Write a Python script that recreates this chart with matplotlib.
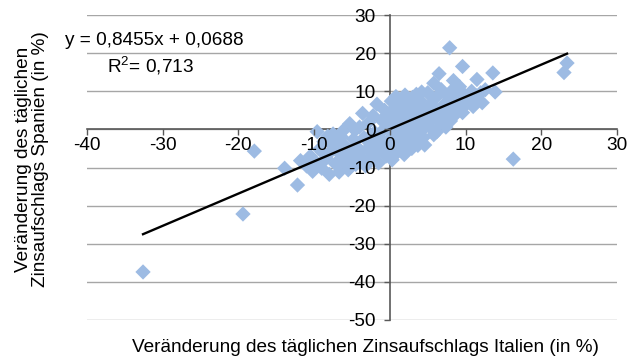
import matplotlib
matplotlib.use("Agg")
import matplotlib.pyplot as plt
import numpy as np

plt.rcParams['font.family'] = ['Liberation Sans', 'DejaVu Sans']
plt.rcParams['axes.unicode_minus'] = False
plt.rcParams['mathtext.fontset'] = 'custom'
plt.rcParams['mathtext.rm'] = 'Liberation Sans'
plt.rcParams['mathtext.default'] = 'regular'

# Daily spread changes, Italy (x) vs. Spain (y), in %
italy = [
    -32.6, -19.4, -17.9, 23.4, 23.0, 16.3, 7.9, 9.6, 13.6, 13.9, 11.5, 12.2, 6.5, 5.8, 8.4, 4.2,
    -13.9, -12.2, -9.6,
    -11.8, -11.0, -10.5, -10.2, -9.8, -9.3, -9.0, -8.7, -8.4, -8.2, -8.0, -7.8, -7.5, -7.2, -7.0,
    -6.7, -6.5, -6.2, -6.0, -5.8, -5.5, -5.3, -5.0, -4.8, -4.5, -4.3, -4.0, -3.8, -3.6, -3.4,
    -3.2, -3.0, -2.8, -2.6, -2.4, -2.2, -2.0, -1.8, -1.7, -1.5, -1.3, -1.1, -0.9, -0.7, -0.5,
    -0.3, -0.1, 0.0, 0.1, 0.2, 0.3, 0.4, 0.5, 0.6, 0.7, 0.8, 0.9, 1.0, 1.1, 1.2, 1.3, 1.4, 1.5,
    1.6, 1.7, 1.8, 1.9, 2.0, 2.1, 2.2, 2.3, 2.4, 2.5, 2.6, 2.7, 2.8, 2.9, 3.0, 3.1, 3.2, 3.3,
    3.4, 3.5, 3.6, 3.7, 3.8, 3.9, 4.0, 4.2, 4.4, 4.6, 4.8, 5.0, 5.2, 5.4, 5.6, 5.8, 6.0, 6.2,
    6.4, 6.6, 6.8, 7.0, 7.2, 7.4, 7.6, 7.8, 8.0, 8.2, 8.4, 8.6, 8.8, 9.0, 9.2, 9.4, 9.6, 9.8,
    10.0, 10.4, 10.8, 11.0, 11.4, 12.0, 12.6,
    -8.9, -7.6, -6.4, -5.6, -4.6, -3.9, -2.5, -1.0, -0.2, 0.8, 1.6, 2.4, 3.0, 3.8, 4.5, 5.3,
    6.1, 6.9, 7.7, -1.9, 0.5, 2.0, 4.1,
]
spain = [
    -37.4, -22.2, -5.7, 17.4, 14.9, -7.8, 21.4, 16.5, 14.8, 9.8, 13.1, 7.0, 14.6, 12.1, 12.8, 9.8,
    -10.2, -14.6, -0.6,
    -8.2, -9.6, -7.0, -11.0, -8.5, -5.2, -10.2, -3.2, -7.6, -1.8, -11.8, -5.8, -1.2, -9.0, -3.8,
    -11.2, -6.6, -0.4, -8.8, -4.6, -10.6, 1.5, -6.8, -2.6, -9.2, -4.8, 0.6, -7.4, 4.2, -2.2,
    -9.6, -5.2, 1.8, -7.8, -3.6, 3.6, -0.8, -6.0, 6.6, -8.8, -2.4, 2.4, -4.6, 5.0, -7.0,
    0.4, -2.6, 3.2, -5.2, 7.4, -8.0, -0.6, 1.8, 5.6, -3.4, 8.6, -6.2, 2.8, -1.4, 4.6, 7.8, -4.4, 0.8,
    6.2, -2.6, 3.8, -6.6, 9.0, 1.6, -0.8, 5.2, -3.8, 7.0, 2.4, -1.8, 4.4, -5.0, 8.4, 0.4, 6.0, -2.8,
    3.2, 9.2, 1.2, -4.2, 5.4, -0.6, 7.6, 2.6, -2.2, -4.1, 4.6, 9.6, 0.8, 6.6, 3.0, -1.4, 8.2, -0.6,
    4.8, 1.8, 10.4, 6.2, 3.4, 0.6, 8.8, 5.0, 2.2, 10.2, 6.8, 3.8, 8.4, 5.6, 11.2, 7.4, 4.4, 9.2,
    6.4, 8.0, 10.0, 6.0, 8.8, 9.6, 10.4,
    -6.0, -4.2, -2.0, -7.4, -0.2, -5.6, -1.6, -0.4, 1.4, 0.2, -1.0, 0.6, 3.6, 1.8, 0.2, 4.0,
    3.2, 4.6, 2.8, -4.0, -2.0, -5.2, 5.8,
]

# Linear trend as reported in the chart
slope = 0.8455
intercept = 0.0688
r_squared = 0.713

x_ticks = [-40, -30, -20, -10, 0, 10, 20, 30]
y_ticks = [-50, -40, -30, -20, -10, 0, 10, 20, 30]

marker_color = '#9DBBE3'
grid_color = '#A6A6A6'
axis_color = '#595959'
fs = 13.7

fig = plt.figure(figsize=(6.27, 3.63), dpi=100)
ax = fig.add_axes([87 / 627, 1 - 320 / 363, 530 / 627, 305 / 363])
ax.set_xlim(x_ticks[0], x_ticks[-1])
ax.set_ylim(y_ticks[0], y_ticks[-1])

# Horizontal gridlines drawn below the markers
for v in y_ticks:
    ax.axhline(v, color=grid_color, lw=1.0, zorder=0.5)

# Axes cross at the origin
for side in ('top', 'right'):
    ax.spines[side].set_visible(False)
ax.spines['left'].set_position(('data', 0))
ax.spines['bottom'].set_position(('data', 0))
for side in ('left', 'bottom'):
    ax.spines[side].set_color(axis_color)
    ax.spines[side].set_linewidth(1.2)
    ax.spines[side].set_zorder(0.8)

ax.scatter(italy, spain, marker='D', s=7.8 ** 2, color=marker_color,
           edgecolors='none', zorder=2)

xs = np.array([min(italy), max(italy)])
ax.plot(xs, slope * xs + intercept, color='black', lw=1.7, zorder=3)

ax.set_xticks(x_ticks)
ax.set_yticks(y_ticks)
ax.set_xticklabels([str(t) for t in x_ticks])
ax.set_yticklabels([str(t) for t in y_ticks])
ax.tick_params(axis='x', direction='out', length=4, width=1, color=axis_color,
               labelsize=fs, pad=1.5, labelcolor='black')
ax.tick_params(axis='y', direction='out', length=4, width=1, color=axis_color,
               labelsize=fs, pad=6, labelcolor='black')
ax.xaxis.set_zorder(4)
ax.yaxis.set_zorder(4)

ax.text(-42.9, 22.2, 'y = 0,8455x + 0,0688', fontsize=fs, va='baseline', ha='left',
        clip_on=False, zorder=5)
ax.text(-37.4, 14.8, 'R$^{2}$= 0,713', fontsize=fs, va='baseline', ha='left',
        clip_on=False, zorder=5)

ax.set_xlabel('Veränderung des täglichen Zinsaufschlags Italien (in %)', fontsize=fs)
ax.xaxis.set_label_coords(0.526, -0.062)
ax.set_ylabel('Veränderung des täglichen\nZinsaufschlags Spanien (in %)', fontsize=fs,
              linespacing=1.05)
ax.yaxis.set_label_coords(-0.071, 0.528)

fig.savefig('out.png', dpi=100)
